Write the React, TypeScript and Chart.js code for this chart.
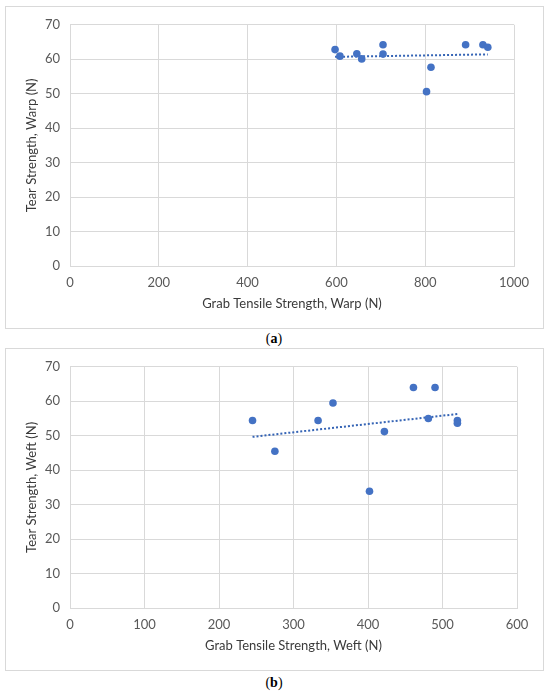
import React, { useEffect, useRef } from "react";
import { Chart, registerables } from "chart.js";

Chart.register(...registerables);

// (a) warp direction
const warpTensile = [597, 608, 646, 657, 705, 705, 803, 813, 891, 930, 941];
const warpTear = [62.8, 60.9, 61.6, 60.1, 64.2, 61.5, 50.6, 57.7, 64.2, 64.2, 63.5];

// (b) weft direction
const weftTensile = [245, 275, 333, 353, 402, 422, 461, 490, 481, 520, 520];
const weftTear = [54.4, 45.5, 54.4, 59.5, 33.9, 51.2, 64.0, 64.0, 55.0, 54.4, 53.6];

const yTicks = [0, 10, 20, 30, 40, 50, 60, 70];
const warpXTicks = [0, 200, 400, 600, 800, 1000];
const weftXTicks = [0, 100, 200, 300, 400, 500, 600];

const BLUE = "#4472C4";
const GRID = "#d9d9d9";
const FONT = "Lato, 'Open Sans', sans-serif";

// least squares line through the points, drawn between min and max x
function trend(xs: number[], ys: number[]) {
  const n = xs.length;
  const mx = xs.reduce((a, b) => a + b, 0) / n;
  const my = ys.reduce((a, b) => a + b, 0) / n;
  let sxy = 0;
  let sxx = 0;
  for (let i = 0; i < n; i++) {
    sxy += (xs[i] - mx) * (ys[i] - my);
    sxx += (xs[i] - mx) * (xs[i] - mx);
  }
  const b = sxy / sxx;
  const a = my - b * mx;
  const x0 = Math.min(...xs);
  const x1 = Math.max(...xs);
  return [
    { x: x0, y: a + b * x0 },
    { x: x1, y: a + b * x1 },
  ];
}

interface PanelProps {
  xs: number[];
  ys: number[];
  xTicks: number[];
  xTitle: string;
  yTitle: string;
  rightPad: number;
}

const ScatterPanel: React.FC<PanelProps> = ({ xs, ys, xTicks, xTitle, yTitle, rightPad }) => {
  const canvasRef = useRef<HTMLCanvasElement>(null);

  useEffect(() => {
    if (!canvasRef.current) return;
    const xMax = xTicks[xTicks.length - 1];
    const step = xTicks[1] - xTicks[0];
    const chart = new Chart(canvasRef.current, {
      type: "scatter",
      data: {
        datasets: [
          {
            data: xs.map((x, i) => ({ x, y: ys[i] })),
            backgroundColor: BLUE,
            borderColor: BLUE,
            pointRadius: 3.8,
            pointHoverRadius: 3.8,
            borderWidth: 0,
            order: 1,
          },
          {
            type: "line",
            data: trend(xs, ys),
            borderColor: "#3564b5",
            borderWidth: 2,
            borderDash: [2, 2],
            pointRadius: 0,
            fill: false,
            order: 2,
          },
        ],
      },
      options: {
        animation: false,
        responsive: false,
        events: [],
        layout: { padding: { left: 0, top: 15, right: rightPad, bottom: 0 } },
        plugins: { legend: { display: false }, tooltip: { enabled: false } },
        scales: {
          x: {
            type: "linear",
            min: 0,
            max: xMax,
            ticks: {
              stepSize: step,
              color: "#595959",
              font: { family: FONT, size: 13 },
              padding: 9,
              callback: (v: any) => (xTicks.includes(Number(v)) ? String(v) : ""),
            },
            grid: { color: GRID, drawTicks: false },
            border: { color: GRID },
            title: {
              display: true,
              text: xTitle,
              color: "#3a3a3a",
              font: { family: FONT, size: 13 },
              padding: { top: 4, bottom: 16 },
            },
            afterFit: (s: any) => {
              s.height = 62;
            },
          },
          y: {
            min: 0,
            max: 70,
            ticks: {
              stepSize: 10,
              color: "#595959",
              font: { family: FONT, size: 13 },
              padding: 10,
              callback: (v: any) => (yTicks.includes(Number(v)) ? String(v) : ""),
            },
            grid: { color: GRID, drawTicks: false },
            border: { color: GRID },
            title: {
              display: true,
              text: yTitle,
              color: "#3a3a3a",
              font: { family: FONT, size: 13 },
              padding: { top: 18, bottom: 0 },
            },
            afterFit: (s: any) => {
              s.width = 64;
            },
          },
        },
      },
    });
    return () => chart.destroy();
  }, [xs, ys, xTicks, xTitle, yTitle, rightPad]);

  return <canvas ref={canvasRef} width={537} height={321} style={{ display: "block" }} />;
};

const boxStyle: React.CSSProperties = {
  position: "absolute",
  left: 5,
  width: 537,
  border: "1px solid #d9d9d9",
  background: "#fff",
};

const captionStyle: React.CSSProperties = {
  position: "absolute",
  left: 0,
  width: 548,
  textAlign: "center",
  fontFamily: "'Liberation Serif', serif",
  fontSize: 14,
  color: "#000",
};

export default function App() {
  return (
    <div style={{ position: "absolute", left: 0, top: 0, width: 550, height: 694, background: "#fff" }}>
      <div style={{ ...boxStyle, top: 6 }}>
        <ScatterPanel
          xs={warpTensile}
          ys={warpTear}
          xTicks={warpXTicks}
          xTitle="Grab Tensile Strength, Warp (N)"
          yTitle="Tear Strength, Warp (N)"
          rightPad={29}
        />
      </div>
      <div style={{ ...captionStyle, top: 331 }}>
        (<b>a</b>)
      </div>
      <div style={{ ...boxStyle, top: 348 }}>
        <ScatterPanel
          xs={weftTensile}
          ys={weftTear}
          xTicks={weftXTicks}
          xTitle="Grab Tensile Strength, Weft (N)"
          yTitle="Tear Strength, Weft (N)"
          rightPad={26}
        />
      </div>
      <div style={{ ...captionStyle, top: 675 }}>
        (<b>b</b>)
      </div>
    </div>
  );
}
